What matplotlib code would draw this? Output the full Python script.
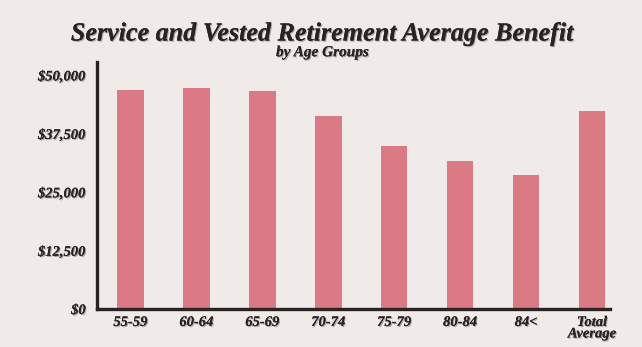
import matplotlib.pyplot as plt
import matplotlib.patheffects as pe

# data
age_groups = ['55-59', '60-64', '65-69', '70-74', '75-79', '80-84', '84<', 'Total\nAverage']
avg_benefit = [46800, 47300, 46650, 41300, 34900, 31700, 28700, 42300]
ytick_vals = [0, 12500, 25000, 37500, 50000]
ytick_labels = ['$0', '$12,500', '$25,000', '$37,500', '$50,000']

bg = '#f0ebe8'
bar_color = '#db7a84'
ink = '#2b2222'

shadow = [pe.withSimplePatchShadow(offset=(0.8, -0.8), shadow_rgbFace='#777777', alpha=0.6), pe.Normal()]

fig = plt.figure(figsize=(6.42, 3.47), dpi=100, facecolor=bg)
ax = fig.add_axes([0.151, 0.1095, 0.799, 0.7115])
ax.set_facecolor(bg)

x = list(range(len(age_groups)))
ax.bar(x, avg_benefit, width=0.4, color=bar_color, zorder=2)

ax.set_xlim(-0.51, 7.27)
ax.set_ylim(0, 52800)

for s in ['top', 'right']:
    ax.spines[s].set_visible(False)
for s in ['left', 'bottom']:
    ax.spines[s].set_color(ink)
    ax.spines[s].set_linewidth(2.4)

ax.set_yticks(ytick_vals)
ax.set_yticklabels(ytick_labels)
ax.set_xticks(x)
ax.set_xticklabels(age_groups, linespacing=0.85)
ax.tick_params(length=0, pad=5)
for lab in ax.get_yticklabels() + ax.get_xticklabels():
    lab.set_family('Liberation Serif')
    lab.set_style('italic')
    lab.set_weight('bold')
    lab.set_fontsize(10.5)
    lab.set_color(ink)
    lab.set_path_effects(shadow)
ax.tick_params(axis='y', pad=8)

fig.text(0.502, 0.902, 'Service and Vested Retirement Average Benefit',
         ha='center', va='center', family='Liberation Serif', style='italic',
         weight='bold', fontsize=18.8, color=ink, path_effects=shadow)
fig.text(0.502, 0.848, 'by Age Groups', ha='center', va='center',
         family='Liberation Serif', style='italic', weight='bold',
         fontsize=11, color=ink, path_effects=shadow)

fig.savefig('out.png', dpi=100, facecolor=bg)
